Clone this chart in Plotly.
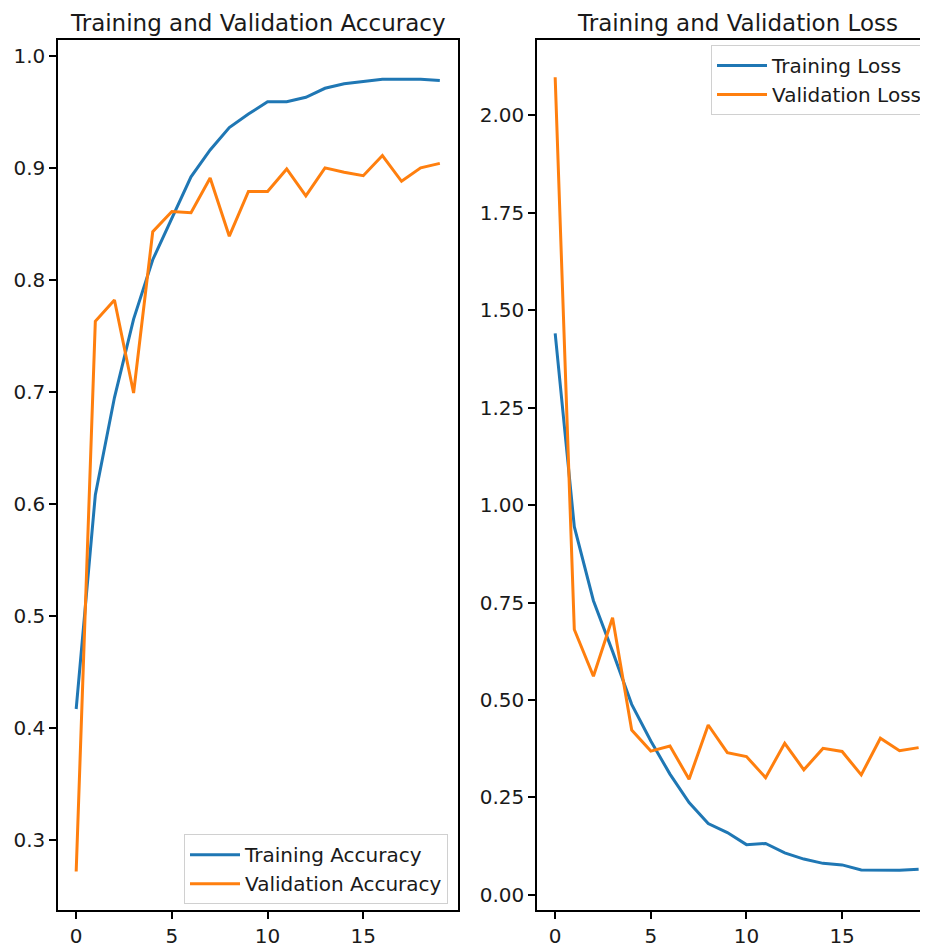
import plotly.graph_objects as go

epochs = list(range(20))
train_acc = [0.417, 0.608, 0.695, 0.765, 0.818, 0.855, 0.892, 0.916, 0.936, 0.948,
             0.959, 0.959, 0.963, 0.971, 0.975, 0.977, 0.979, 0.979, 0.979, 0.978]
val_acc = [0.272, 0.763, 0.782, 0.699, 0.843, 0.861, 0.860, 0.891, 0.839, 0.879,
           0.879, 0.899, 0.875, 0.900, 0.896, 0.893, 0.911, 0.888, 0.900, 0.904]
train_loss = [1.441, 0.945, 0.755, 0.625, 0.489, 0.395, 0.310, 0.237, 0.183, 0.160,
              0.129, 0.132, 0.108, 0.092, 0.081, 0.077, 0.064, 0.064, 0.063, 0.066]
val_loss = [2.098, 0.681, 0.561, 0.711, 0.423, 0.369, 0.382, 0.297, 0.436, 0.365,
            0.355, 0.301, 0.389, 0.321, 0.376, 0.368, 0.308, 0.402, 0.370, 0.378]

acc_ticks = [0.3, 0.4, 0.5, 0.6, 0.7, 0.8, 0.9, 1.0]
loss_ticks = [0.0, 0.25, 0.5, 0.75, 1.0, 1.25, 1.5, 1.75, 2.0]
x_ticks = [0, 5, 10, 15]

BLUE = "#1f77b4"
ORANGE = "#ff7f0e"
FONT = "DejaVu Sans"
OFF = 8  # default page body margin
W, H = 928 - OFF, 948 - OFF


def px(x):
    return (x - OFF) / W


def py(y):
    return 1 - (y - OFF) / H


fig = go.Figure()
fig.add_trace(go.Scatter(x=epochs, y=train_acc, mode="lines", name="Training Accuracy",
                         line=dict(color=BLUE, width=3), xaxis="x", yaxis="y", legend="legend"))
fig.add_trace(go.Scatter(x=epochs, y=val_acc, mode="lines", name="Validation Accuracy",
                         line=dict(color=ORANGE, width=3), xaxis="x", yaxis="y", legend="legend"))
fig.add_trace(go.Scatter(x=epochs, y=train_loss, mode="lines", name="Training Loss",
                         line=dict(color=BLUE, width=3), xaxis="x2", yaxis="y2", legend="legend2"))
fig.add_trace(go.Scatter(x=epochs, y=val_loss, mode="lines", name="Validation Loss",
                         line=dict(color=ORANGE, width=3), xaxis="x2", yaxis="y2", legend="legend2"))

ydom = [py(913), py(40)]
axis_common = dict(showgrid=False, zeroline=False, showline=True, linecolor="black", linewidth=1.5,
                   ticks="outside", ticklen=7, tickwidth=1.5, tickcolor="black",
                   tickfont=dict(family=FONT, size=20, color="#1a1a1a"))
legend_font = dict(family=FONT, size=20, color="#1a1a1a")

fig.update_layout(
    width=W, height=H,
    margin=dict(l=0, r=0, t=0, b=0),
    paper_bgcolor="white", plot_bgcolor="white",
    font=dict(family=FONT, color="#1a1a1a"),
    xaxis=dict(domain=[px(58), px(458)], range=[-0.95, 19.95], tickvals=x_ticks,
               mirror=True, anchor="y", **axis_common),
    yaxis=dict(domain=ydom, range=[0.2375, 1.0142], tickvals=acc_ticks, tickformat=".1f",
               mirror=True, anchor="x", **axis_common),
    xaxis2=dict(domain=[px(537), 1.0], range=[-0.95, 19.49], tickvals=x_ticks,
                mirror=True, anchor="y2", **axis_common),
    yaxis2=dict(domain=ydom, range=[-0.039, 2.194], tickvals=loss_ticks, tickformat=".2f",
                mirror=False, anchor="x2", **axis_common),
    legend=dict(x=px(448), y=py(907), xanchor="right", yanchor="bottom",
                bgcolor="rgba(255,255,255,0.8)", bordercolor="#d0d0d0", borderwidth=1,
                font=legend_font, tracegroupgap=0, itemwidth=50),
    legend2=dict(x=px(927), y=py(45), xanchor="right", yanchor="top",
                 bgcolor="rgba(255,255,255,0.8)", bordercolor="#d0d0d0", borderwidth=1,
                 font=legend_font, tracegroupgap=0, itemwidth=50),
    annotations=[
        dict(text="Training and Validation Accuracy", x=px((58 + 458) / 2), y=1.0,
             xref="paper", yref="paper", xanchor="center", yanchor="top", showarrow=False,
             font=dict(family=FONT, size=23, color="#1a1a1a")),
        dict(text="Training and Validation Loss", x=px((537 + 937) / 2), y=1.0,
             xref="paper", yref="paper", xanchor="center", yanchor="top", showarrow=False,
             font=dict(family=FONT, size=23, color="#1a1a1a")),
    ],
)

fig.write_html("out.html")
